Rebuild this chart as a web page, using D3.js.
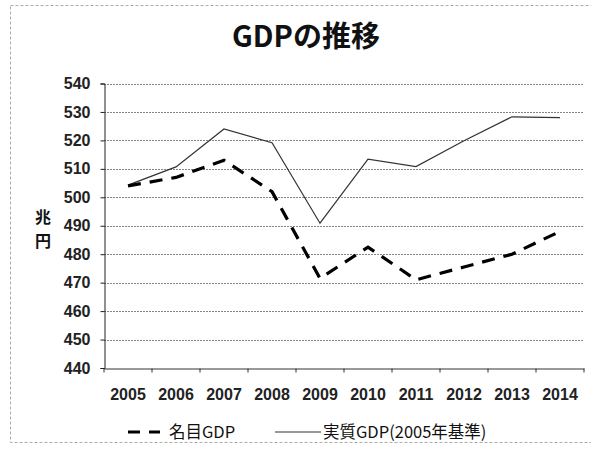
<!DOCTYPE html>
<html>
<head>
<meta charset="utf-8">
<script src="https://cdn.jsdelivr.net/npm/d3@7"></script>
<style>
  body { margin: 0; background: #fff; }
  svg { display: block; font-family: "Noto Sans CJK JP", "Noto Sans", sans-serif; }
</style>
</head>
<body>
<svg id="chart" width="591" height="453"></svg>
<script>
var years = ['2005', '2006', '2007', '2008', '2009', '2010', '2011', '2012', '2013', '2014'];
var nominalGdp = [504, 507, 513, 502, 471.5, 482.5, 471, 475.5, 480, 488];
var realGdp = [504.3, 510.7, 524, 519.2, 490.9, 513.4, 510.8, 519.9, 528.3, 528];
var yTicks = [440, 450, 460, 470, 480, 490, 500, 510, 520, 530, 540];
var seriesNames = ['名目GDP', '実質GDP(2005年基準)'];

(function() {
  var svg, x, y, line, grid, xAxis, yAxis, legend, cx;

  svg = d3.select('#chart');

  // outer frame, faint dotted like the scan
  svg.append('rect').attr('x', 10.5).attr('y', 5.5).attr('width', 590).attr('height', 437)
    .attr('fill', 'none').attr('stroke', '#aaa').attr('stroke-width', 1).attr('stroke-dasharray', '3,2');

  svg.append('text').attr('x', 306).attr('y', 47).attr('text-anchor', 'middle')
    .attr('font-size', 29).attr('font-weight', 'bold').attr('fill', '#111').text('GDPの推移');

  x = d3.scaleBand().domain(years).range([104, 584]);
  y = d3.scaleLinear().domain([440, 540]).range([368, 83.5]);
  cx = function(d) {
    return x(d) + x.bandwidth() / 2;
  };

  grid = svg.append('g').attr('class', 'grid');
  grid.selectAll('line').data(yTicks.slice(1)).enter().append('line')
    .attr('x1', 104).attr('x2', 584)
    .attr('y1', function(d) { return Math.round(y(d)) + 0.5; })
    .attr('y2', function(d) { return Math.round(y(d)) + 0.5; })
    .attr('stroke', '#666').attr('stroke-width', 0.8).attr('stroke-dasharray', '2,1');

  yAxis = svg.append('g').attr('transform', 'translate(104.5,0)')
    .call(d3.axisLeft(y).tickValues(yTicks).tickSize(4).tickPadding(10));
  yAxis.select('.domain').attr('stroke', '#222');
  yAxis.selectAll('.tick line').attr('stroke', '#222');
  yAxis.selectAll('text').attr('font-size', 16).attr('font-weight', 'bold').attr('fill', '#222');

  xAxis = svg.append('g').attr('transform', 'translate(0,' + (Math.round(y(440)) + 0.5) + ')')
    .call(d3.axisBottom(x).tickSize(0).tickPadding(20));
  xAxis.select('.domain').attr('stroke', '#333');
  xAxis.selectAll('text').attr('font-size', 16).attr('font-weight', 'bold').attr('fill', '#222');
  xAxis.selectAll('.boundary').data(years.concat(['end'])).enter().append('line')
    .attr('x1', function(d, i) { return 104 + i * x.step(); })
    .attr('x2', function(d, i) { return 104 + i * x.step(); })
    .attr('y1', 0).attr('y2', 4).attr('stroke', '#333');

  svg.append('text').attr('x', 43).attr('y', 223).attr('text-anchor', 'middle')
    .attr('font-size', 16).attr('font-weight', 'bold').attr('fill', '#111').text('兆');
  svg.append('text').attr('x', 43).attr('y', 247).attr('text-anchor', 'middle')
    .attr('font-size', 16).attr('font-weight', 'bold').attr('fill', '#111').text('円');

  line = d3.line().x(function(d, i) { return cx(years[i]); }).y(function(d) { return y(d); });

  svg.append('path').datum(realGdp).attr('d', line)
    .attr('fill', 'none').attr('stroke', '#333').attr('stroke-width', 1.2);
  svg.append('path').datum(nominalGdp).attr('d', line)
    .attr('fill', 'none').attr('stroke', '#000').attr('stroke-width', 3.2)
    .attr('stroke-dasharray', '13,9');

  legend = svg.append('g').attr('class', 'legend');
  legend.append('line').attr('x1', 128).attr('x2', 160).attr('y1', 432).attr('y2', 432)
    .attr('stroke', '#000').attr('stroke-width', 3.2).attr('stroke-dasharray', '12,9');
  legend.append('text').attr('x', 169).attr('y', 438).attr('font-size', 16.5)
    .attr('fill', '#111').text(seriesNames[0]);
  legend.append('line').attr('x1', 275).attr('x2', 321).attr('y1', 432).attr('y2', 432)
    .attr('stroke', '#333').attr('stroke-width', 1.2);
  legend.append('text').attr('x', 323).attr('y', 438).attr('font-size', 16.5)
    .attr('fill', '#111').text(seriesNames[1]);
}).call(this);
</script>
</body>
</html>
